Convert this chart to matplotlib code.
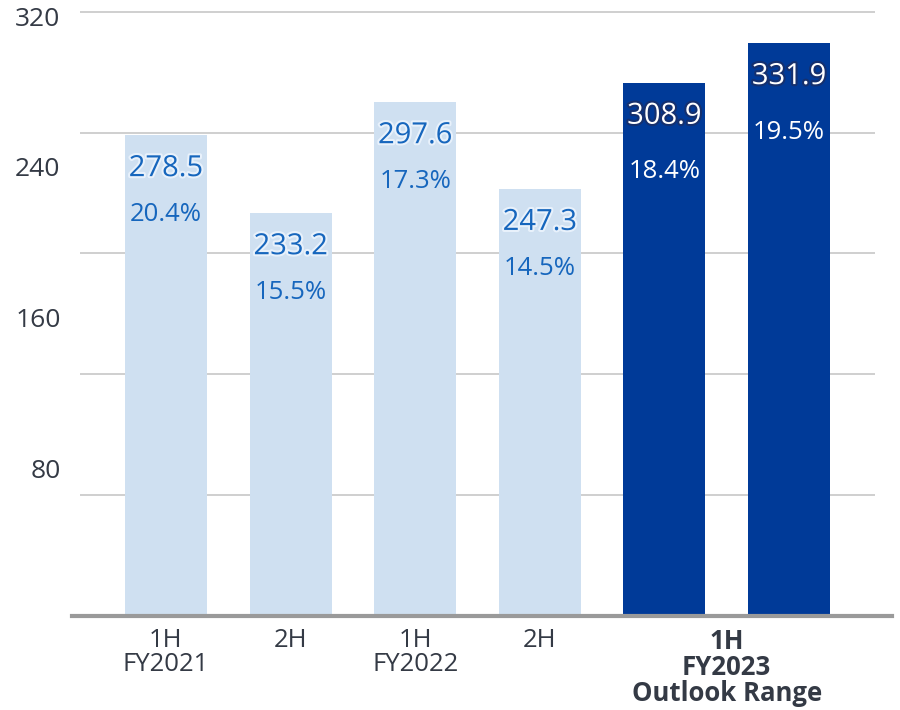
import matplotlib
matplotlib.use("Agg")
import matplotlib.pyplot as plt
import matplotlib.patheffects as pe
import matplotlib.transforms as mtransforms
import numpy as np

plt.rcParams['font.family'] = ['Open Sans', 'DejaVu Sans']

# data
periods = ["1H\nFY2021", "2H", "1H\nFY2022", "2H"]
outlook_label = "1H\nFY2023\nOutlook Range"
values = [278.5, 233.2, 297.6, 247.3, 308.9, 331.9]
margins = [20.4, 15.5, 17.3, 14.5, 18.4, 19.5]
outlook = [False, False, False, False, True, True]
ytick_labels = [80, 160, 240, 320]

light = "#cfe0f1"
dark = "#003a98"
txt_light = "#1666bd"
axis_txt = "#343a45"

fig = plt.figure(figsize=(9, 7.1), dpi=100)
ax = fig.add_axes([80 / 900, (710 - 615.5) / 710, 795 / 900, (615.5 - 3.4) / 710])

x = np.arange(len(values))
cols = [dark if o else light for o in outlook]
ax.bar(x, values, width=0.658, color=cols, zorder=2)

grid_top = 350
ymax = 355
ax.set_ylim(0, ymax)
ax.set_xlim(-0.69, 5.69)
for g in np.linspace(0, grid_top, 6)[1:]:
    ax.axhline(g, color="#cccccc", lw=1.3, zorder=1)
ax.axhline(0, xmin=-0.01, xmax=1.021, color="#9a9a9a", lw=3, zorder=3, clip_on=False)

for xi, v, m, o in zip(x, values, margins, outlook):
    c = "white" if o else txt_light
    halo = "#15306e" if o else "#e8f1fb"
    ax.annotate(f"{v:.1f}", (xi, v), xytext=(0, -24), textcoords="offset points",
                ha="center", va="center", fontsize=21, color=c, zorder=4,
                path_effects=[pe.withStroke(linewidth=3, foreground=halo)])
    ax.annotate(f"{m:.1f}%", (xi, v), xytext=(0, -64 if o else -57), textcoords="offset points",
                ha="center", va="center", fontsize=18.5, color=c, zorder=4)

ax.set_yticks([])
for s in ax.spines.values():
    s.set_visible(False)

# value labels on the left use their own 0-320 scale
ax2 = ax.twinx()
ax2.set_ylim(0, ymax * 320 / grid_top)
ax2.yaxis.set_ticks_position("left")
ax2.set_yticks(ytick_labels)
ax2.set_yticklabels([str(t) for t in ytick_labels], fontsize=19, color=axis_txt)
ax2.tick_params(axis="y", length=0, pad=14)
for s in ax2.spines.values():
    s.set_visible(False)
shift = mtransforms.ScaledTranslation(0, -4 / 100, fig.dpi_scale_trans)
for lbl in ax2.get_yticklabels():
    lbl.set_transform(lbl.get_transform() + shift)

ax.set_xticks(x[:4])
ax.set_xticklabels(periods, fontsize=18.5, color=axis_txt, linespacing=0.95)
ax.tick_params(axis="x", length=0, pad=9)
# the outlook label sits under both outlook bars
ax.annotate(outlook_label, (x[outlook].mean(), 0), xycoords=("data", "axes fraction"),
            xytext=(0, -9), textcoords="offset points", ha="center", va="top",
            fontsize=18.5, fontweight="bold", color=axis_txt, linespacing=0.95,
            annotation_clip=False)

fig.savefig("out.png", dpi=100)
